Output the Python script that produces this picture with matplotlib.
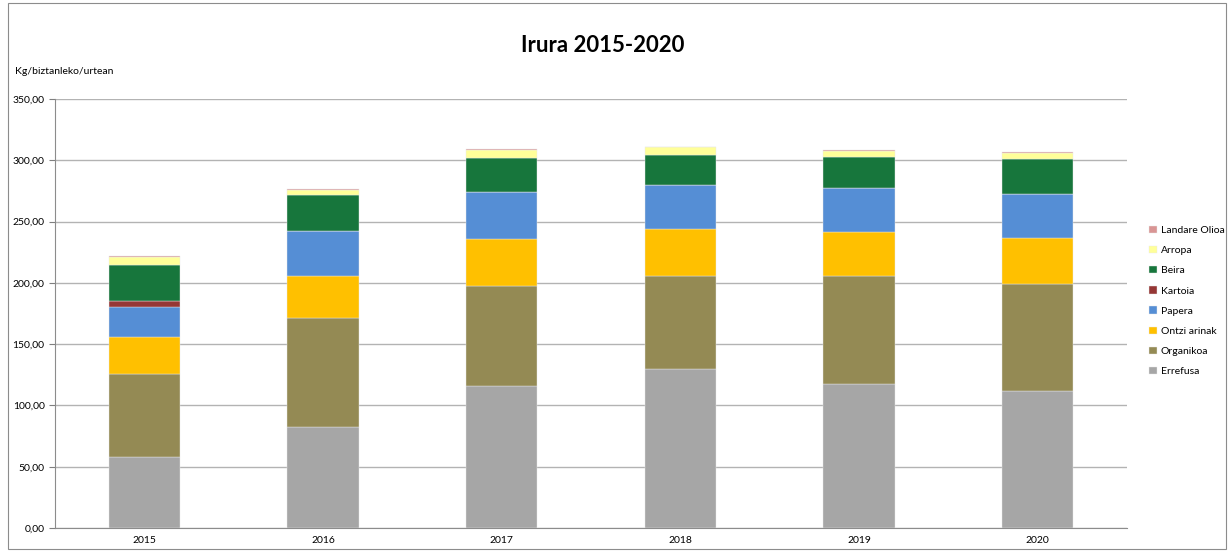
import numpy as np
import matplotlib.pyplot as plt
from matplotlib.patches import Rectangle

plt.rcParams['font.family'] = ['Lato', 'DejaVu Sans']

years = ["2015", "2016", "2017", "2018", "2019", "2020"]

errefusa = [58.0, 82.4, 115.9, 129.8, 117.3, 111.8]
organikoa = [67.6, 88.9, 81.6, 76.1, 88.6, 87.1]
ontzi_arinak = [30.2, 34.6, 38.6, 38.1, 35.9, 38.0]
papera = [24.5, 36.1, 38.4, 35.7, 35.4, 35.7]
kartoia = [4.7, 0.0, 0.0, 0.0, 0.0, 0.0]
beira = [29.8, 29.4, 27.7, 24.5, 25.3, 28.3]
arropa = [6.6, 4.6, 6.5, 6.5, 5.2, 4.9]
landare_olioa = [0.8, 0.6, 0.6, 0.5, 0.8, 0.8]

series = [
    ("Errefusa", errefusa, "#a6a6a6"),
    ("Organikoa", organikoa, "#948a54"),
    ("Ontzi arinak", ontzi_arinak, "#ffc000"),
    ("Papera", papera, "#558ed5"),
    ("Kartoia", kartoia, "#953735"),
    ("Beira", beira, "#17763c"),
    ("Arropa", arropa, "#ffff99"),
    ("Landare Olioa", landare_olioa, "#d99594"),
]

fig = plt.figure(figsize=(12.3, 5.52), dpi=100)
ax = fig.add_axes([55 / 1230, 24 / 552, 1072 / 1230, 429 / 552])

x = np.arange(len(years))
bottom = np.zeros(len(years))
handles = []
for name, vals, col in series:
    b = ax.bar(x, vals, 0.40, bottom=bottom, color=col, label=name,
               edgecolor="#e8e8e8", linewidth=0.3, zorder=3)
    handles.append(b)
    bottom += np.array(vals)

ax.set_xlim(-0.5, len(years) - 0.5)
ax.set_ylim(0, 350)
ax.set_yticks(np.arange(0, 351, 50))
ax.set_yticklabels([f"{v:.2f}".replace(".", ",") for v in np.arange(0, 351, 50)])
ax.set_xticks(x)
ax.set_xticklabels(years)
ax.tick_params(axis="both", labelsize=7.5, colors="#7f7f7f", labelcolor="black", length=4)
ax.tick_params(axis="x", length=0, pad=6)
ax.yaxis.grid(True, color="#b3b3b3", linewidth=1)
ax.set_axisbelow(True)
for s in ["top", "right"]:
    ax.spines[s].set_visible(False)
ax.spines["left"].set_color("#8c8c8c")
ax.spines["bottom"].set_color("#8c8c8c")

fig.text(603 / 1230, 1 - 45 / 552, "Irura 2015-2020", ha="center", va="center",
         fontsize=16, fontweight="bold")
fig.text(15 / 1230, 1 - 72 / 552, "Kg/biztanleko/urtean", ha="left", va="center",
         fontsize=7.5)

leg = fig.legend(handles[::-1], [s[0] for s in series][::-1], loc="center left",
                 bbox_to_anchor=(1140 / 1230, 1 - 301 / 552), frameon=False,
                 fontsize=7.5, handlelength=0.7, handleheight=0.7,
                 labelspacing=1.05, handletextpad=0.4)

fig.patches.append(Rectangle((8 / 1230, 3 / 552), 1218 / 1230, 546 / 552,
                             transform=fig.transFigure, fill=False,
                             edgecolor="#8c8c8c", linewidth=0.8))

fig.savefig("out.png", dpi=100)
